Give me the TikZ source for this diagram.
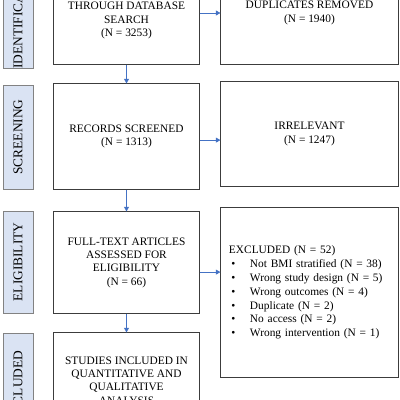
\documentclass[tikz,border=0pt]{standalone}
\usepackage{fontspec}
\setmainfont{Liberation Serif}
\usepackage{tikz}
\usetikzlibrary{arrows.meta, positioning, calc}
\definecolor{stageblue}{RGB}{218,227,243}
\definecolor{stagegray}{RGB}{130,130,130}
\definecolor{boxdark}{RGB}{60,60,60}
\definecolor{arrblue}{RGB}{68,114,196}
\tikzset{
  stage/.style={draw=stagegray, fill=stageblue, minimum height=7.5mm,
                minimum width=#1, inner sep=0pt, line width=0.6pt,
                rotate=90, font=\fontsize{9.5}{11}\selectfont},
  mainbx/.style={draw=boxdark, fill=white, minimum width=36.25mm,
                 minimum height=#1, align=center, inner sep=0pt,
                 line width=0.7pt, font=\fontsize{8.1}{9.5}\selectfont},
  sidebx/.style={draw=boxdark, fill=white, minimum width=44.25mm,
                 minimum height=#1, align=center, inner sep=0pt,
                 line width=0.7pt, font=\fontsize{8.1}{9.5}\selectfont},
  arr/.style={-{Triangle[length=3.2pt, width=3.4pt]}, arrblue, line width=0.6pt},
}
\newcommand{\bulitem}[1]{\makebox[5.25mm][l]{\hspace{0.6mm}\textbullet}#1}

\begin{document}
\begin{tikzpicture}[x=0.025cm, y=-0.025cm]
  \useasboundingbox (0,0) rectangle (400,400);

  % stage labels
  \node[stage=23mm] (sid) at (18,16) {IDENTIFICATION};
  \node[stage=26mm] (ssc) at (18,137) {SCREENING};
  \node[stage=25.5mm] (sel) at (18,262) {ELIGIBILITY};
  \node[stage=26mm] (sin) at (18,385) {INCLUDED};

  % main flow
  \node[mainbx=25.5mm] (search) at (126.5,13)
    {\strut\\THROUGH DATABASE\\SEARCH\\(N = 3253)};
  \node[mainbx=26.25mm] (screen) at (126.5,136.5)
    {RECORDS SCREENED\\(N = 1313)};
  \node[mainbx=25.25mm] (elig) at (126.5,262.5)
    {FULL-TEXT ARTICLES\\ASSESSED FOR\\ELIGIBILITY\\(N = 66)};
  \node[mainbx=23.75mm] (incl) at (126.5,380.5)
    {STUDIES INCLUDED IN\\QUANTITATIVE AND\\QUALITATIVE\\ANALYSIS};

  % removed records
  \node[sidebx=25.5mm] (dup) at (309.5,13) {DUPLICATES REMOVED\\(N = 1940)};
  \node[sidebx=26mm] (irr) at (309.5,134) {IRRELEVANT\\(N = 1247)};
  \node[sidebx=42.25mm, align=left, text width=40.25mm, inner xsep=2mm,
        font=\fontsize{8.1}{9.8}\selectfont] (excl) at (309.5,292.5)
    {EXCLUDED (N = 52)\\
     \bulitem{Not BMI stratified (N = 38)}\\
     \bulitem{Wrong study design (N = 5)}\\
     \bulitem{Wrong outcomes (N = 4)}\\
     \bulitem{Duplicate (N = 2)}\\
     \bulitem{No access (N = 2)}\\
     \bulitem{Wrong intervention (N = 1)}};

  % arrows
  \draw[arr] (search) -- (screen);
  \draw[arr] (screen) -- (elig);
  \draw[arr] (elig) -- (incl);
  \draw[arr] (search.east) -- (dup.west);
  \draw[arr] ([yshift=-0.9mm]screen.east) -- ([yshift=-0.9mm]screen.east -| irr.west);
  \draw[arr] ([yshift=-2.4mm]elig.east) -- ([yshift=-2.4mm]elig.east -| excl.west);
\end{tikzpicture}
\end{document}
